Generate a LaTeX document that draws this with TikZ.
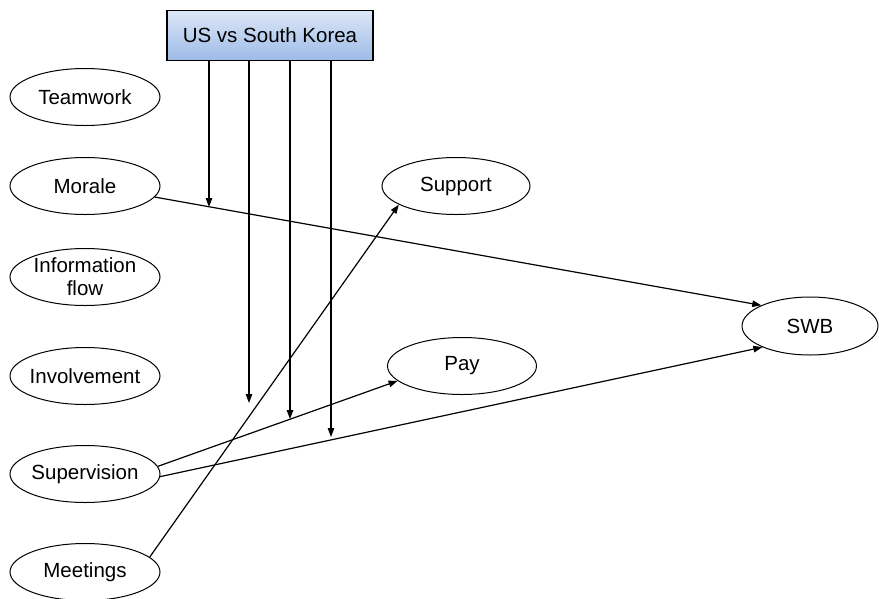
\documentclass[tikz,border=0pt]{standalone}
\usepackage{fontspec}
\setmainfont{Liberation Sans}
\usetikzlibrary{arrows.meta,shapes.geometric}

\definecolor{boxtop}{RGB}{157,187,232}
\definecolor{boxbottom}{RGB}{221,231,246}

\begin{document}
\begin{tikzpicture}[x=1pt,y=-1pt,
  factor/.style={draw,ellipse,line width=1pt,minimum width=150pt,minimum height=57pt,
    inner ysep=0pt,inner xsep=-4pt,align=center,font=\fontsize{20.5}{23}\selectfont},
  effect/.style={line width=1.2pt,-{Triangle[length=9pt,width=6.5pt]}}]

\useasboundingbox (0,0) rectangle (879,598);

% moderator (y axis is flipped, so the shading colours are swapped)
\node[draw,line width=1.4pt,top color=boxbottom,bottom color=boxtop,
  minimum width=206pt,minimum height=50pt,inner sep=0pt,
  font=\fontsize{20.5}{23}\selectfont] (country) at (270,35.5) {US vs South Korea};

% predictors
\node[factor] (teamwork) at (85,97) {Teamwork};
\node[factor] (morale) at (85,186) {Morale};
\node[factor] (infoflow) at (85,277) {Information\\flow};
\node[factor] (involvement) at (85,376) {Involvement};
\node[factor] (supervision) at (85,474) {Supervision};
\node[factor] (meetings) at (85,572) {Meetings};

% mediators and outcome
\node[factor,minimum width=148pt] (support) at (456,186) {Support};
\node[factor,minimum width=149pt] (pay) at (462,366) {Pay};
\node[factor,minimum width=136pt,minimum height=58pt] (swb) at (810,326) {SWB};

\draw[effect] (morale.-9) -- (swb.157);
\draw[effect] (meetings.13) -- (support.198);
\draw[effect] (supervision.6) -- (pay.193);
\draw[effect] (supervision.-2) -- (swb.204);

% moderation arrows
\foreach \n/\x/\y in {a/209/207, b/249/403, c/290/419, d/331/437} {
  \coordinate (hit\n) at (\x,\y);
  \draw[effect] (country.south -| hit\n) -- (hit\n);
}

\end{tikzpicture}
\end{document}
